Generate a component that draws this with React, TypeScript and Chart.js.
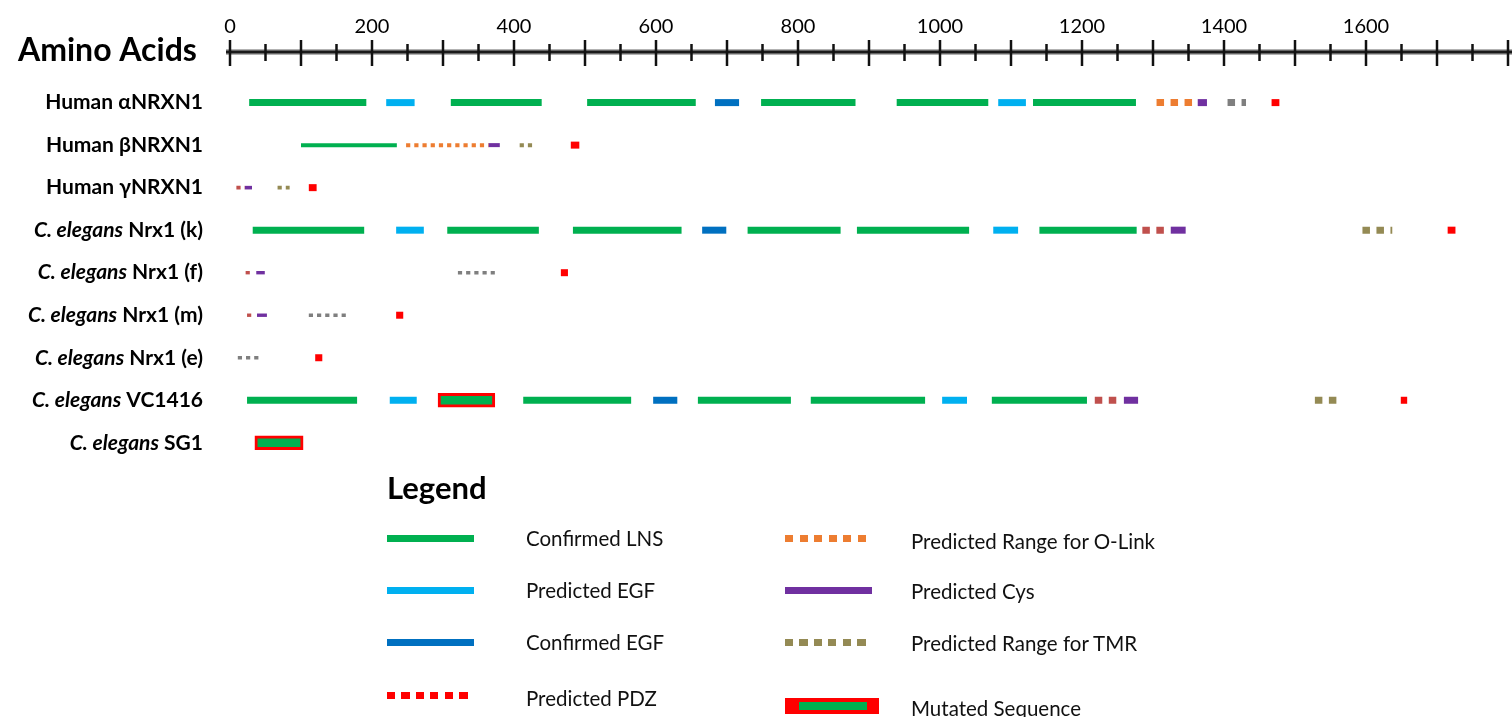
import React, { useEffect, useRef } from 'react';
import { Chart, registerables } from 'chart.js';

Chart.register(...registerables);

// ---------------- data ----------------
const axisTitle = 'Amino Acids';
const axisMin = 0;
const axisMax = 1800;
const minorStep = 50;
const majorStep = 100;
const labelStep = 200;

const rowItalic = ['', '', '', 'C. elegans', 'C. elegans', 'C. elegans', 'C. elegans', 'C. elegans', 'C. elegans'];
const rowName = ['Human αNRXN1', 'Human βNRXN1', 'Human γNRXN1', 'Nrx1 (k)', 'Nrx1 (f)', 'Nrx1 (m)', 'Nrx1 (e)', 'VC1416', 'SG1'];

// segments: [row, start aa, end aa]
const lnsSegments = [
  [0, 27, 192], [0, 311, 439], [0, 503, 656], [0, 748, 881], [0, 939, 1068], [0, 1131, 1276],
  [1, 100, 235],
  [3, 32, 189], [3, 306, 435], [3, 483, 636], [3, 729, 860], [3, 883, 1041], [3, 1140, 1277],
  [7, 24, 179], [7, 413, 565], [7, 659, 790], [7, 818, 979], [7, 1073, 1207],
];
const predEgfSegments = [
  [0, 220, 260], [0, 1082, 1121], [3, 234, 273], [3, 1075, 1110], [7, 225, 263], [7, 1003, 1038],
];
const confEgfSegments = [[0, 683, 717], [3, 665, 699], [7, 596, 630]];
const oLinkSegments = [[0, 1305, 1356], [1, 248, 364]];
const cysSegments = [
  [0, 1363, 1376], [1, 364, 380], [2, 21, 31], [3, 1325, 1346], [4, 37, 49], [5, 38, 52], [7, 1259, 1279],
];
const tmrSegments = [[1, 408, 427], [2, 67, 84], [3, 1595, 1637], [7, 1528, 1559]];
const pdzSegments = [
  [0, 1467, 1478], [1, 480, 492], [2, 111, 122], [3, 1715, 1726], [4, 466, 476], [5, 234, 244], [6, 120, 130], [7, 1649, 1658],
];
const grayRangeSegments = [[0, 1405, 1431], [4, 321, 373], [5, 111, 165], [6, 11, 42]];
const brownSegments = [[2, 9, 21], [3, 1285, 1316], [4, 22, 30], [5, 24, 31], [7, 1218, 1249]];
const mutatedSegments = [[7, 293, 373], [8, 35, 103]];

// ---------------- styles ----------------
const COLORS = {
  lns: '#00B050',
  pegf: '#00B0F0',
  cegf: '#0070C0',
  pdz: '#FF0000',
  olink: '#ED7D31',
  cys: '#7030A0',
  tmr: '#948A54',
  gray: '#7F7F7F',
  brown: '#C0504D',
};
const rowLineWidth = [7, 4, 3.6, 7, 3.4, 3.4, 3.4, 7, 7];
const FONT = 'Lato, "Open Sans", sans-serif';

const dashFor = (row: number) => (rowLineWidth[row] > 5 ? [7.5, 6.5] : [4.2, 4]);

function toPoints(segs: number[][]) {
  const pts: any[] = [];
  for (const [r, s, e] of segs) {
    pts.push({ x: s, y: r }, { x: e, y: r }, { x: e, y: null });
  }
  return pts;
}

function lineDataset(label: string, segs: number[][], color: string, dashed: boolean, fixedWidth?: number) {
  return {
    type: 'line' as const,
    label,
    data: toPoints(segs),
    borderColor: color,
    backgroundColor: color,
    borderWidth: fixedWidth ?? 7,
    borderCapStyle: 'butt' as const,
    pointRadius: 0,
    pointHoverRadius: 0,
    fill: false,
    spanGaps: false,
    tension: 0,
    segment: {
      borderWidth: (ctx: any) => fixedWidth ?? rowLineWidth[ctx.p0.parsed.y],
      borderDash: (ctx: any) => (dashed ? dashFor(ctx.p0.parsed.y) : []),
    },
  };
}

const decorPlugin = {
  id: 'decor',
  afterDraw(chart: any) {
    const { ctx, chartArea, scales } = chart;
    const xs = scales.x;
    const ys = scales.y;
    const axisY = chartArea.top;
    ctx.save();
    // axis line
    const xa = xs.getPixelForValue(axisMin) - 4;
    const xb = Math.min(chart.width, xs.getPixelForValue(axisMax) + 5);
    ctx.lineCap = 'butt';
    ctx.strokeStyle = 'rgba(0,0,0,0.3)';
    ctx.lineWidth = 6;
    ctx.beginPath();
    ctx.moveTo(xa, axisY);
    ctx.lineTo(xb, axisY);
    ctx.stroke();
    ctx.strokeStyle = '#1a1a1a';
    ctx.lineWidth = 3;
    ctx.beginPath();
    ctx.moveTo(xa, axisY);
    ctx.lineTo(xb, axisY);
    ctx.stroke();
    // tick marks crossing the axis
    ctx.strokeStyle = '#111';
    ctx.lineWidth = 2.5;
    for (const t of xs.ticks) {
      const v = t.value;
      const px = xs.getPixelForValue(v);
      const major = v % majorStep === 0;
      ctx.beginPath();
      ctx.moveTo(px, axisY - (major ? 12 : 8));
      ctx.lineTo(px, axisY + (major ? 14 : 9));
      ctx.stroke();
    }
    // axis title
    ctx.fillStyle = '#000';
    ctx.textBaseline = 'middle';
    ctx.textAlign = 'left';
    ctx.font = `bold 32px ${FONT}`;
    ctx.fillText(axisTitle, 18, axisY - 1);
    // row labels
    const right = xs.getPixelForValue(axisMin) - 27;
    ctx.textAlign = 'right';
    rowName.forEach((name, i) => {
      const y = ys.getPixelForValue(i);
      const normal = rowItalic[i] ? ' ' + name : name;
      ctx.font = `bold 21px ${FONT}`;
      const w = ctx.measureText(normal).width;
      ctx.fillText(normal, right, y);
      if (rowItalic[i]) {
        ctx.font = `italic bold 21px ${FONT}`;
        ctx.fillText(rowItalic[i], right - w, y);
      }
    });
    ctx.restore();
  },
};

// ---------------- legend ----------------
const legendLeft = [
  { label: 'Confirmed LNS', color: COLORS.lns, kind: 'solid' },
  { label: 'Predicted EGF', color: COLORS.pegf, kind: 'solid' },
  { label: 'Confirmed EGF', color: COLORS.cegf, kind: 'solid' },
  { label: 'Predicted PDZ', color: COLORS.pdz, kind: 'dash' },
];
const legendRight = [
  { label: 'Predicted Range for O-Link', color: COLORS.olink, kind: 'dash' },
  { label: 'Predicted Cys', color: COLORS.cys, kind: 'solid' },
  { label: 'Predicted Range for TMR', color: COLORS.tmr, kind: 'dash' },
  { label: 'Mutated Sequence', color: COLORS.pdz, kind: 'mutated' },
];
const legendRowY = [538, 590, 642, 697];

function Sample({ item, left, cy }: any) {
  if (item.kind === 'mutated') {
    return (
      <div style={{ position: 'absolute', left, top: cy - 8, width: 94, height: 16, background: COLORS.pdz }}>
        <div style={{ position: 'absolute', left: 14, top: 4, width: 68, height: 8, background: COLORS.lns }} />
      </div>
    );
  }
  const bg =
    item.kind === 'dash'
      ? `repeating-linear-gradient(to right, ${item.color} 0px, ${item.color} 8px, transparent 8px, transparent 14.5px)`
      : item.color;
  return <div style={{ position: 'absolute', left, top: cy - 3.5, width: 87, height: 7, background: bg }} />;
}

function Legend() {
  const textStyle = (left: number, cy: number): React.CSSProperties => ({
    position: 'absolute',
    left,
    top: cy - 13,
    height: 26,
    lineHeight: '26px',
    fontFamily: FONT,
    fontSize: 20.5,
    color: '#111',
    whiteSpace: 'nowrap',
  });
  return (
    <>
      <div
        style={{
          position: 'absolute',
          left: 387,
          top: 467,
          fontFamily: FONT,
          fontWeight: 700,
          fontSize: 31,
          lineHeight: '40px',
          color: '#000',
        }}
      >
        Legend
      </div>
      {legendLeft.map((it, i) => (
        <React.Fragment key={'l' + i}>
          <Sample item={it} left={387} cy={legendRowY[i] - (i === 3 ? 2 : 0)} />
          <div style={textStyle(526, legendRowY[i] + (i === 3 ? 1 : 0))}>{it.label}</div>
        </React.Fragment>
      ))}
      {legendRight.map((it, i) => (
        <React.Fragment key={'r' + i}>
          <Sample item={it} left={785} cy={legendRowY[i] + (i === 3 ? 9 : 0)} />
          <div style={textStyle(911, legendRowY[i] + (i === 0 ? 3 : i === 3 ? 11 : 1))}>{it.label}</div>
        </React.Fragment>
      ))}
    </>
  );
}

export default function App() {
  const canvasRef = useRef<HTMLCanvasElement | null>(null);

  useEffect(() => {
    if (!canvasRef.current) return;
    const chart = new Chart(canvasRef.current, {
      type: 'line',
      data: {
        datasets: [
          lineDataset('Confirmed LNS', lnsSegments, COLORS.lns, false),
          lineDataset('Predicted EGF', predEgfSegments, COLORS.pegf, false),
          lineDataset('Confirmed EGF', confEgfSegments, COLORS.cegf, false),
          lineDataset('Predicted Range for O-Link', oLinkSegments, COLORS.olink, true),
          lineDataset('Predicted Cys', cysSegments, COLORS.cys, false),
          lineDataset('Predicted Range for TMR', tmrSegments, COLORS.tmr, true),
          lineDataset('Predicted PDZ', pdzSegments, COLORS.pdz, false, 7),
          lineDataset('Other range', grayRangeSegments, COLORS.gray, true),
          lineDataset('Other site', brownSegments, COLORS.brown, true),
          {
            type: 'bar',
            label: 'Mutated Sequence',
            indexAxis: 'y',
            data: mutatedSegments.map(([r, s, e]) => ({ y: r, x: [s, e] })),
            backgroundColor: COLORS.lns,
            borderColor: COLORS.pdz,
            borderWidth: 3,
            borderSkipped: false,
            barThickness: 14,
            grouped: false,
          } as any,
        ],
      },
      options: {
        responsive: false,
        animation: false,
        events: [],
        layout: { padding: { top: 8, left: 230, right: 4, bottom: 247 } },
        plugins: { legend: { display: false }, tooltip: { enabled: false } },
        scales: {
          x: {
            type: 'linear',
            position: 'top',
            min: axisMin,
            max: axisMax,
            offset: false,
            afterFit: (s: any) => {
              s.height = 44;
            },
            grid: { display: true, color: 'rgba(0,0,0,0)', drawOnChartArea: false, drawTicks: true, tickLength: 9 },
            border: { display: false },
            ticks: {
              stepSize: minorStep,
              autoSkip: false,
              maxRotation: 0,
              minRotation: 0,
              padding: 4,
              color: '#000',
              font: { family: FONT, size: 20 },
              callback: (v: any) => (Number(v) % labelStep === 0 && Number(v) < axisMax ? String(v) : ''),
            },
          },
          y: {
            type: 'linear',
            display: false,
            reverse: true,
            offset: false,
            bounds: 'data',
            grace: 0,
            min: -1.19,
            max: 8.64,
            grid: { offset: false },
          },
        },
      } as any,
      plugins: [decorPlugin],
    });
    return () => chart.destroy();
  }, []);

  return (
    <div style={{ position: 'fixed', left: 0, top: 0, width: 1512, height: 717, background: '#fff', overflow: 'hidden' }}>
      <canvas ref={canvasRef} width={1512} height={717} style={{ position: 'absolute', left: 0, top: 0, display: 'block' }} />
      <Legend />
    </div>
  );
}
